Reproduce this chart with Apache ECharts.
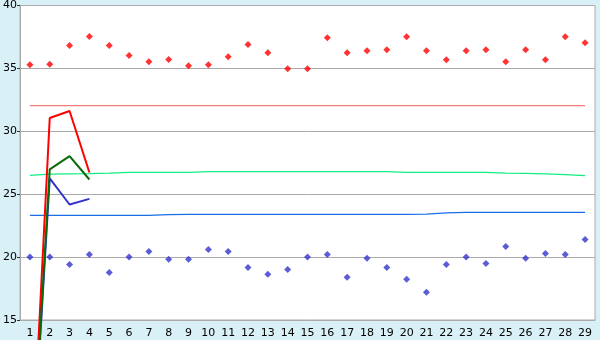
<!DOCTYPE html>
<html><head><meta charset="utf-8">
<script src="https://cdn.jsdelivr.net/npm/echarts@6/dist/echarts.min.js"></script>
<style>html,body{margin:0;padding:0;background:#daf0f7;}#c{width:600px;height:340px;}</style>
</head><body><div id="c"></div>
<script>
var categories = ['1','2','3','4','5','6','7','8','9','10','11','12','13','14','15','16','17','18','19','20','21','22','23','24','25','26','27','28','29'];
var yTicks = {min: 15, max: 40, interval: 5};
var redPoints = [35.3,35.32,36.83,37.54,36.83,36.03,35.53,35.71,35.21,35.29,35.93,36.9,36.25,34.97,34.97,37.43,36.25,36.4,36.48,37.51,36.4,35.69,36.4,36.48,35.53,36.48,35.69,37.51,37.04];
var bluePoints = [20.0,20.0,19.42,20.21,18.78,20.0,20.45,19.82,19.82,20.61,20.45,19.18,18.63,19.02,20.0,20.21,18.39,19.9,19.18,18.23,17.2,19.42,20.0,19.5,20.85,19.9,20.29,20.21,21.4];
var redLevel = [32.04,32.04,32.04,32.04,32.04,32.04,32.04,32.04,32.04,32.04,32.04,32.04,32.04,32.04,32.04,32.04,32.04,32.04,32.04,32.04,32.04,32.04,32.04,32.04,32.04,32.04,32.04,32.04,32.04];
var greenLevel = [26.5,26.6,26.62,26.64,26.68,26.74,26.74,26.74,26.74,26.8,26.8,26.8,26.8,26.8,26.8,26.8,26.8,26.8,26.8,26.74,26.74,26.74,26.74,26.74,26.68,26.66,26.62,26.55,26.48];
var blueLevel = [23.32,23.32,23.32,23.32,23.32,23.32,23.32,23.38,23.4,23.4,23.4,23.4,23.4,23.4,23.4,23.4,23.4,23.4,23.4,23.4,23.42,23.52,23.55,23.55,23.55,23.55,23.55,23.55,23.55];
var redShort = [0,31.06,31.61,26.72];
var greenShort = [0,26.98,28.02,26.17];
var blueShort = [0,26.25,24.18,24.63];

var chart = echarts.init(document.getElementById('c'), null, {renderer:'canvas'});
function lvl(data, color){
  return {type:'line', data:data, symbol:'none', lineStyle:{color:color, width:1.3}, silent:true, z:3};
}
function shortLine(data, color){
  return {type:'line', data:data, symbol:'none', clip:false, lineStyle:{color:color, width:2}, silent:true, z:4};
}
chart.setOption({
  animation:false,
  backgroundColor:'#daf0f7',
  grid:{left:20, right:5, top:5, bottom:20, show:true, backgroundColor:'#ffffff', borderColor:'#aaaaaa', borderWidth:1},
  xAxis:{type:'category', data:categories, boundaryGap:true,
    axisLine:{lineStyle:{color:'#aaaaaa'}},
    axisTick:{alignWithLabel:true, length:6, lineStyle:{color:'#333333'}},
    axisLabel:{color:'#000', fontFamily:'DejaVu Sans', fontSize:11, margin:8, interval:0}},
  yAxis:{type:'value', min:yTicks.min, max:yTicks.max, interval:yTicks.interval,
    axisLine:{show:true, lineStyle:{color:'#aaaaaa'}},
    axisTick:{show:true, length:3, lineStyle:{color:'#333333'}},
    axisLabel:{color:'#000', fontFamily:'DejaVu Sans', fontSize:11, margin:3},
    splitLine:{lineStyle:{color:'#aaaaaa'}}},
  series:[
    lvl(redLevel, '#f47c7c'),
    lvl(greenLevel, '#11ee80'),
    lvl(blueLevel, '#1a6ee8'),
    shortLine(redShort, '#ff0000'),
    shortLine(blueShort, '#3333cc'),
    shortLine(greenShort, '#0a6a0a'),
    {type:'scatter', data:redPoints, symbol:'diamond', symbolSize:7, itemStyle:{color:'#ff0000'}, z:5},
    {type:'scatter', data:bluePoints, symbol:'diamond', symbolSize:7, itemStyle:{color:'#3333cc'}, z:5}
  ]
});
</script></body></html>
